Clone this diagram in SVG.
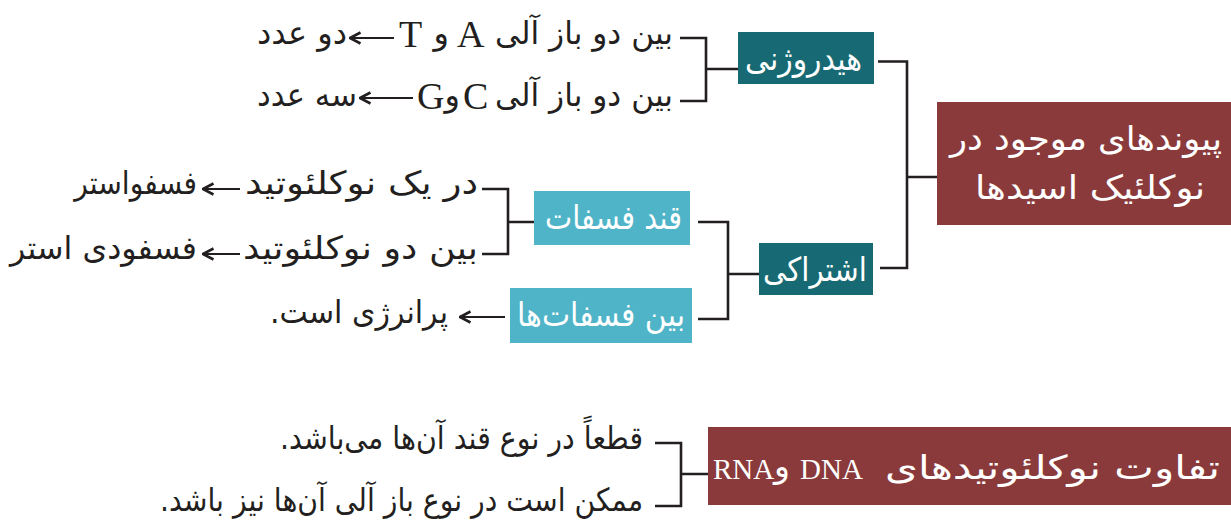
<svg xmlns="http://www.w3.org/2000/svg" width="1231" height="528" viewBox="0 0 1231 528">
<defs>
<style>
.fa{font-family:"DejaVu Sans","Noto Sans",sans-serif;font-size:32px;fill:#231f20}
.lat{font-family:"Liberation Serif","DejaVu Serif",serif;font-size:38px;fill:#231f20}
.wfa{font-family:"DejaVu Sans","Noto Sans",sans-serif;font-size:33px;fill:#ffffff}
.wlat{font-family:"Liberation Serif","DejaVu Serif",serif;font-size:29px;fill:#ffffff}
.dark{fill:#176a73}
.light{fill:#4fb4c8}
.red{fill:#8b3a3b}
.con{fill:none;stroke:#231f20;stroke-width:2.6;stroke-linejoin:miter}
.arr{fill:none;stroke:#231f20;stroke-width:2;marker-end:url(#chev)}
</style>
<marker id="chev" viewBox="0 0 14 14" refX="12.5" refY="7" markerWidth="14" markerHeight="14" markerUnits="userSpaceOnUse" orient="auto">
<path d="M2,1.5 L12.5,7 L2,12.5" fill="none" stroke="#231f20" stroke-width="2.6"/>
</marker>
</defs>
<rect width="1231" height="528" fill="#ffffff"/>

<g id="connectors">
<path class="con" d="M680,38 H706 V101 H680 M706,69 H738"/>
<path class="con" d="M878,61.5 H907 V268 H880 M907,177 H937"/>
<path class="con" d="M482,189 H508 V254 H482 M508,222 H534"/>
<path class="con" d="M698,222 H728 V319 H698 M728,274 H759"/>
<path class="con" d="M655,443 H681 V506 H655 M681,474 H708"/>
<path class="arr" d="M394,38 H350"/>
<path class="arr" d="M413,98 H360"/>
<path class="arr" d="M240,189 H203"/>
<path class="arr" d="M240,254 H203"/>
<path class="arr" d="M505,317 H460"/>
</g>

<g id="node-title">
<rect class="red" x="937" y="102" width="294" height="123"/>
<text class="wfa" x="1086" y="150" text-anchor="middle" font-size="36" textLength="272" lengthAdjust="spacingAndGlyphs">پیوندهای موجود در</text>
<text class="wfa" x="1090" y="199" text-anchor="middle" font-size="36" textLength="230" lengthAdjust="spacingAndGlyphs">نوکلئیک اسیدها</text>
</g>

<g id="node-hydrogen">
<rect class="dark" x="738" y="32" width="136" height="52"/>
<text class="wfa" x="803.5" y="70" text-anchor="middle" textLength="117" lengthAdjust="spacingAndGlyphs">هیدروژنی</text>
</g>

<g id="node-covalent">
<rect class="dark" x="759" y="243" width="114" height="52"/>
<text class="wfa" x="815" y="281" text-anchor="middle" textLength="104" lengthAdjust="spacingAndGlyphs">اشتراکی</text>
</g>

<g id="node-sugar-phosphate">
<rect class="light" x="534" y="191" width="156" height="54"/>
<text class="wfa" x="613.5" y="229" text-anchor="middle" textLength="137" lengthAdjust="spacingAndGlyphs">قند فسفات</text>
</g>

<g id="node-between-phosphates">
<rect class="light" x="510" y="288" width="182" height="55"/>
<text class="wfa" x="601" y="326" text-anchor="middle" textLength="168" lengthAdjust="spacingAndGlyphs">بین فسفات‌ها</text>
</g>

<g id="node-at">
<text class="fa" x="673" y="44" text-anchor="end" textLength="178" lengthAdjust="spacingAndGlyphs">بین دو باز آلی</text>
<text class="lat" x="457" y="47">A</text>
<text class="fa" x="449" y="44" text-anchor="end">و</text>
<text class="lat" x="399" y="47">T</text>
<text class="fa" x="347" y="44" text-anchor="end" textLength="90" lengthAdjust="spacingAndGlyphs">دو عدد</text>
</g>

<g id="node-gc">
<text class="fa" x="673" y="106" text-anchor="end" textLength="178" lengthAdjust="spacingAndGlyphs">بین دو باز آلی</text>
<text class="lat" x="463" y="109">C</text>
<text class="fa" x="460" y="106" text-anchor="end">و</text>
<text class="lat" x="417" y="109">G</text>
<text class="fa" x="357" y="106" text-anchor="end" textLength="100" lengthAdjust="spacingAndGlyphs">سه عدد</text>
</g>

<g id="node-phosphoester">
<text class="fa" x="478" y="194" text-anchor="end" textLength="233" lengthAdjust="spacingAndGlyphs">در یک نوکلئوتید</text>
<text class="fa" x="0" y="0" text-anchor="end" transform="translate(197,194) scale(0.88,1)">فسفواستر</text>
</g>

<g id="node-phosphodiester">
<text class="fa" x="478" y="259" text-anchor="end" textLength="235" lengthAdjust="spacingAndGlyphs">بین دو نوکلئوتید</text>
<text class="fa" x="197" y="259" text-anchor="end" textLength="187" lengthAdjust="spacingAndGlyphs">فسفودی استر</text>
</g>

<g id="node-high-energy">
<text class="fa" x="448" y="323" text-anchor="end" textLength="178" lengthAdjust="spacingAndGlyphs">پرانرژی است.&#x200F;</text>
</g>

<g id="node-diff-title">
<rect class="red" x="708" y="427" width="523" height="78"/>
<text class="wfa" x="1220" y="479" text-anchor="end" font-size="36" textLength="335" lengthAdjust="spacingAndGlyphs">تفاوت نوکلئوتیدهای</text>
<text class="wlat" x="800" y="479">DNA</text>
<text class="wfa" x="790" y="477" text-anchor="end" font-size="28">و</text>
<text class="wlat" x="713" y="479">RNA</text>
</g>

<g id="node-sugar-diff">
<text class="fa" x="643" y="449" text-anchor="end" textLength="363" lengthAdjust="spacingAndGlyphs">قطعاً در نوع قند آن‌ها می‌باشد.&#x200F;</text>
</g>

<g id="node-base-diff">
<text class="fa" x="643" y="511" text-anchor="end" textLength="483" lengthAdjust="spacingAndGlyphs">ممکن است در نوع باز آلی آن‌ها نیز باشد.&#x200F;</text>
</g>
</svg>
